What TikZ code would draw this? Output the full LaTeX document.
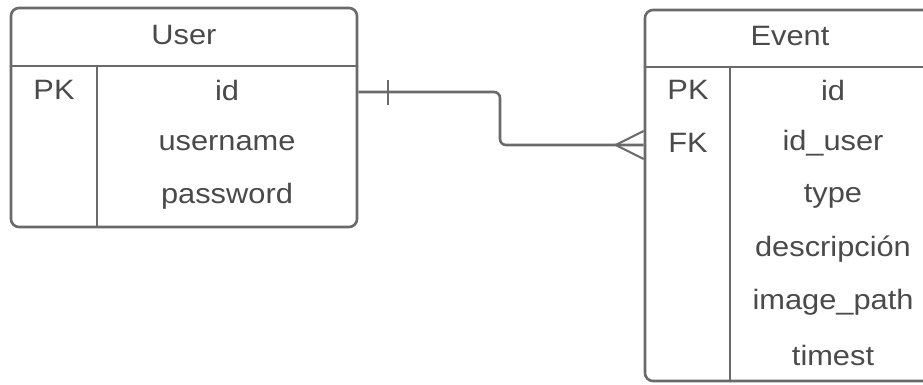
\documentclass[tikz,border=0pt]{standalone}
\usepackage{fontspec}
\setmainfont{Liberation Sans}
\usetikzlibrary{calc}
\definecolor{linegray}{HTML}{6A6A6A}
\definecolor{textgray}{HTML}{4A4A4A}
\newcommand{\wtxt}[1]{\scalebox{1.1}[1]{#1}}
\tikzset{
  tablebox/.style={draw=linegray, line width=2.6pt, rounded corners=8pt, fill=white, inner sep=0pt},
  sepline/.style={draw=linegray, line width=2.6pt},
  conn/.style={draw=linegray, line width=2.6pt, rounded corners=6pt},
  lbl/.style={text=textgray, font=\fontsize{28}{32}\selectfont, inner sep=0pt, anchor=center}
}
\begin{document}
\begin{tikzpicture}[x=1pt, y=-1pt]
\useasboundingbox (0,0) rectangle (923,385);
\begin{scope}
\clip (0,0) rectangle (923,385);
% User table
\node[tablebox, minimum width=346pt, minimum height=219pt] (user) at (184,117.5) {};
\draw[sepline] (user.west |- 0,66) -- (user.east |- 0,66);
\draw[sepline] (97,66) -- (user.south -| 97,0);
\node[lbl] (utitle) at (184,35) {\wtxt{User}};
\node[lbl] (upk) at (54,90) {\wtxt{PK}};
\node[lbl] (uid) at (227,90) {\wtxt{id}};
\node[lbl] (uuser) at (227,143) {\wtxt{username}};
\node[lbl] (upass) at (227,196) {\wtxt{password}};
% Event table
\node[tablebox, minimum width=291pt, minimum height=371pt] (event) at (790.5,195.5) {};
\draw[sepline] (event.west |- 0,67) -- (event.east |- 0,67);
\draw[sepline] (730,67) -- (event.south -| 730,0);
\node[lbl] (etitle) at (790,36) {\wtxt{Event}};
\node[lbl] (epk) at (688,90) {\wtxt{PK}};
\node[lbl] (efk) at (688,143) {\wtxt{FK}};
\node[lbl] (eid) at (833,90) {\wtxt{id}};
\node[lbl] (euser) at (833,143) {\wtxt{id\_user}};
\node[lbl] (etype) at (833,196) {\wtxt{type}};
\node[lbl] (edesc) at (833,249) {\wtxt{descripción}};
\node[lbl] (eimg) at (833,302) {\wtxt{image\_path}};
\node[lbl] (etime) at (833,355) {\wtxt{timest}};
% Relationship
\coordinate (ua) at (user.east |- 0,92);
\coordinate (eb) at (event.west |- 0,145);
\draw[conn] (ua) -- (500,92) -- (500,145) -- (eb);
% one mark
\draw[sepline, line width=2pt] ($(ua)+(30,-12)$) -- ($(ua)+(30,13)$);
% crow's foot
\draw[sepline, line width=2pt] ($(eb)+(0,-14)$) -- ($(eb)+(-28,0)$) -- ($(eb)+(0,14)$);
\end{scope}
\end{tikzpicture}
\end{document}
